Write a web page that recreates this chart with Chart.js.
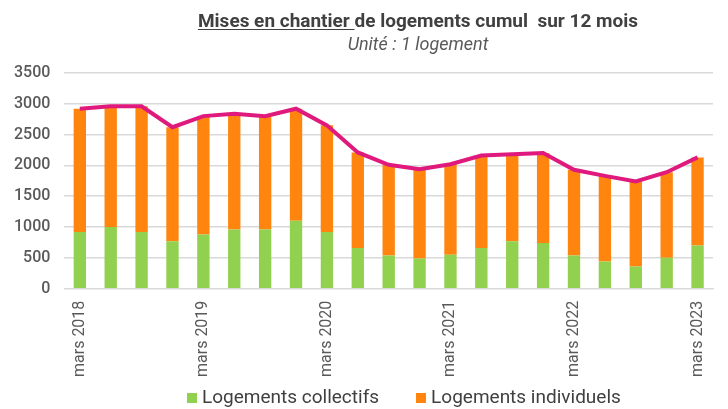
<!DOCTYPE html>
<html lang="fr">
<head>
<meta charset="utf-8">
<script src="https://cdn.jsdelivr.net/npm/chart.js@4"></script>
<style>
  html, body { margin: 0; padding: 0; background: #fff; }
  body { width: 728px; height: 409px; position: relative; overflow: hidden; font-family: Roboto, sans-serif; }
  #wrap { position: absolute; left: 0; top: 0; width: 728px; height: 409px; }
  .titre { position: absolute; left: 118px; width: 600px; text-align: center; color: #404040; }
  #t1 { top: 9px; font-size: 19px; font-weight: bold; }
  #t1 u { text-decoration-thickness: 1px; text-underline-offset: 2px; }
  #t2 { top: 33px; font-size: 18px; font-style: italic; color: #595959; }
  #legende { position: absolute; top: 385px; left: 187px; font-size: 19px; color: #404040; white-space: nowrap; }
  #legende span.item { margin-right: 37px; }
  #legende i { display: inline-block; width: 10px; height: 10px; margin-right: 5px; }
</style>
</head>
<body>
<div id="wrap"><canvas id="chart" width="728" height="409"></canvas></div>
<div class="titre" id="t1"><u>Mises en chantier </u>de logements cumul&nbsp; sur 12 mois</div>
<div class="titre" id="t2">Unité : 1 logement</div>
<div id="legende"></div>
<script>
// trimestres de mars 2018 à mars 2023
const labels = [
  'mars 2018', 'juin 2018', 'sept. 2018', 'déc. 2018',
  'mars 2019', 'juin 2019', 'sept. 2019', 'déc. 2019',
  'mars 2020', 'juin 2020', 'sept. 2020', 'déc. 2020',
  'mars 2021', 'juin 2021', 'sept. 2021', 'déc. 2021',
  'mars 2022', 'juin 2022', 'sept. 2022', 'déc. 2022',
  'mars 2023'
];

const collectifs = [920, 1000, 920, 770, 880, 960, 960, 1100, 920, 660,
  540, 490, 550, 660, 770, 740, 540, 440, 360, 500, 700];

const individuels = [2000, 1960, 2040, 1850, 1920, 1880, 1840, 1820, 1730, 1550,
  1470, 1450, 1470, 1500, 1410, 1460, 1390, 1390, 1380, 1390, 1430];

const totaux = [2920, 2960, 2960, 2620, 2800, 2840, 2800, 2920, 2650, 2210,
  2010, 1940, 2020, 2160, 2180, 2200, 1930, 1830, 1740, 1890, 2130];

const yTicks = [0, 500, 1000, 1500, 2000, 2500, 3000, 3500];

const VERT = '#92d050';
const ORANGE = '#ff850f';
const ROSE = '#e0197d';

const ctx = document.getElementById('chart');

new Chart(ctx, {
  type: 'bar',
  data: {
    labels,
    datasets: [
      {
        type: 'line',
        label: 'Total',
        data: totaux,
        borderColor: ROSE,
        borderWidth: 4,
        pointRadius: 0,
        tension: 0,
        stack: 'total',
        order: 0
      },
      {
        label: 'Logements collectifs',
        data: collectifs,
        backgroundColor: VERT,
        stack: 'log',
        order: 1,
        categoryPercentage: 1,
        barPercentage: 0.4
      },
      {
        label: 'Logements individuels',
        data: individuels,
        backgroundColor: ORANGE,
        stack: 'log',
        order: 1,
        categoryPercentage: 1,
        barPercentage: 0.4
      }
    ]
  },
  options: {
    responsive: false,
    animation: false,
    layout: { padding: { left: 0, right: 15, top: 73, bottom: 28 } },
    plugins: {
      legend: { display: false },
      title: { display: false },
      tooltip: { enabled: false }
    },
    scales: {
      x: {
        stacked: true,
        offset: true,
        grid: { display: false },
        border: { color: '#d9d9d9' },
        ticks: {
          autoSkip: false,
          minRotation: 90,
          maxRotation: 90,
          padding: 4,
          color: '#595959',
          font: { family: 'Roboto', size: 16 },
          callback: (v, i) => (i % 4 === 0 ? labels[i] : '')
        }
      },
      y: {
        stacked: true,
        min: 0,
        max: 3500,
        afterBuildTicks: axis => { axis.ticks = yTicks.map(v => ({ value: v })); },
        grid: { color: '#d9d9d9', lineWidth: 1.5, drawTicks: false },
        border: { display: false },
        ticks: {
          padding: 14,
          color: '#595959',
          font: { family: 'Roboto', size: 16, weight: '500' },
          callback: v => String(v)
        }
      }
    }
  }
});

// légende
const leg = document.getElementById('legende');
[['Logements collectifs', VERT], ['Logements individuels', ORANGE]].forEach(([txt, col]) => {
  const s = document.createElement('span');
  s.className = 'item';
  s.innerHTML = '<i style="background:' + col + '"></i>' + txt;
  leg.appendChild(s);
});
</script>
</body>
</html>
